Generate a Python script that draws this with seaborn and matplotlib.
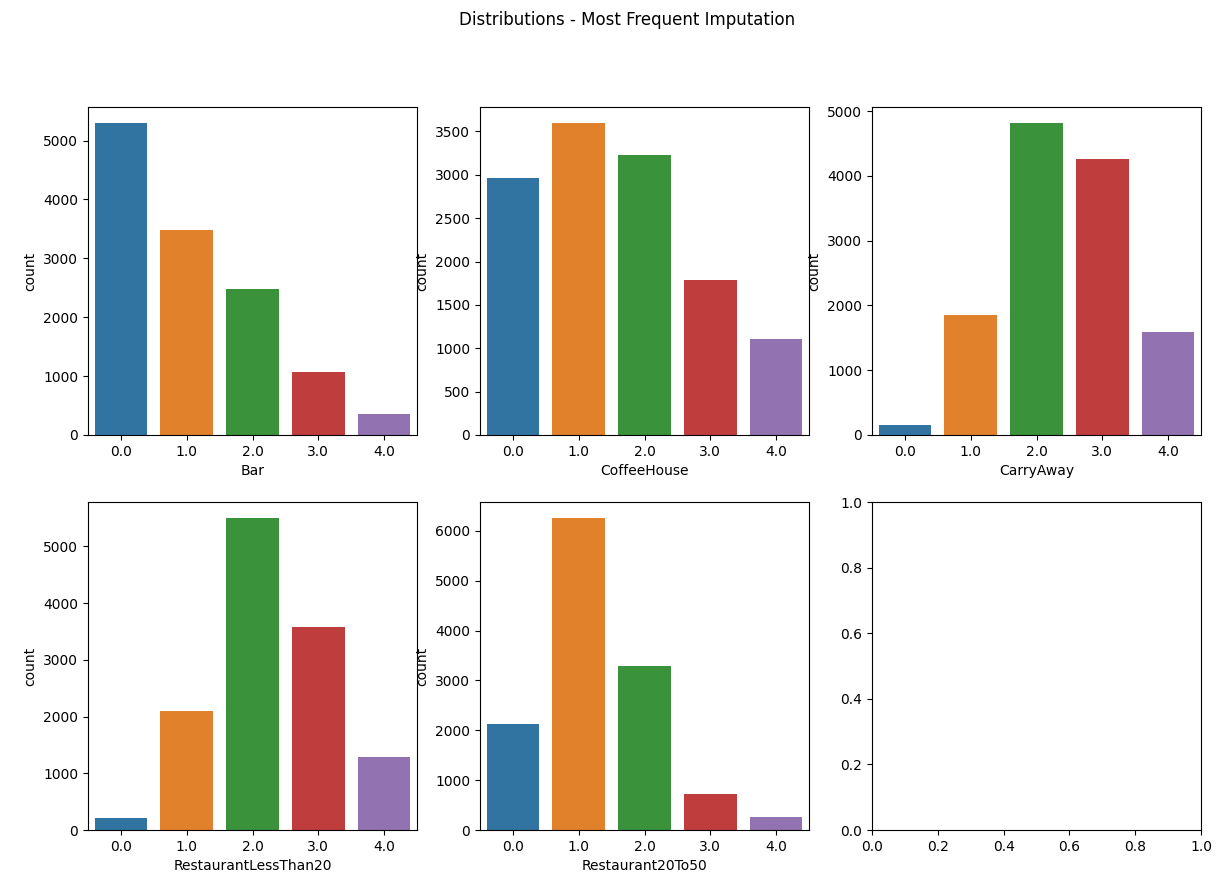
import matplotlib
matplotlib.use("Agg")
import matplotlib.pyplot as plt
import seaborn as sns

# Category codes after most-frequent imputation (0 = never ... 4 = more than 8)
levels = ["0.0", "1.0", "2.0", "3.0", "4.0"]

bar_counts = [5304, 3482, 2473, 1076, 349]
coffeehouse_counts = [2962, 3602, 3225, 1784, 1111]
carryaway_counts = [153, 1856, 4823, 4258, 1594]
restaurant_lt20_counts = [220, 2093, 5506, 3580, 1285]
restaurant_20to50_counts = [2136, 6266, 3290, 728, 264]

columns = ["Bar", "CoffeeHouse", "CarryAway", "RestaurantLessThan20", "Restaurant20To50"]
all_counts = [bar_counts, coffeehouse_counts, carryaway_counts,
              restaurant_lt20_counts, restaurant_20to50_counts]

palette = sns.color_palette("tab10", 5)

W, H = 1217, 882
DPI = 100
fig = plt.figure(figsize=(W / DPI, H / DPI), dpi=DPI)

lefts = [88, 480, 872]
tops = [107, 502]
aw, ah = 329, 328

axes = []
for r in range(2):
    for c in range(3):
        ax = fig.add_axes([lefts[c] / W, 1 - (tops[r] + ah) / H, aw / W, ah / H])
        axes.append(ax)

for ax, name, counts in zip(axes, columns, all_counts):
    sns.barplot(x=levels, y=counts, hue=levels, palette=palette,
                saturation=0.75, legend=False, ax=ax)
    ax.set_xlabel(name)
    ax.set_ylabel("count")

fig.suptitle("Distributions - Most Frequent Imputation", x=627 / W, y=1 - 20 / H,
             va="center", fontsize=12)

fig.savefig("out.png", dpi=DPI)
